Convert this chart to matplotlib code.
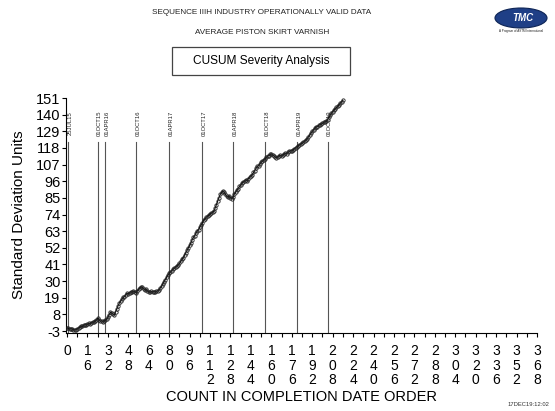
import matplotlib
matplotlib.use("Agg")
import matplotlib.pyplot as plt
from matplotlib.patches import Ellipse, Rectangle
import numpy as np

plt.rcParams['font.family'] = ['Liberation Sans', 'DejaVu Sans']

cusum = [
    -1.0, -1.3, -1.6, -1.4, -1.8, -2.0, -2.3, -2.0, -1.5, -1.0,
    -0.6, 0.2, 0.0, 0.8, 1.2, 0.9, 1.6, 2.1, 1.8, 2.6,
    3.0, 2.7, 3.6, 4.2, 5.5, 4.6, 3.4, 3.9, 3.3, 3.7,
    4.1, 4.8, 6.0, 7.9, 9.6, 8.8, 8.2, 7.6, 9.8, 11.5,
    13.8, 15.6, 16.9, 18.0, 19.2, 19.8, 21.1, 22.0, 21.6, 22.4,
    23.0, 22.6, 23.5, 23.1, 22.4, 23.4, 24.6, 25.5, 26.2, 25.8,
    24.9, 24.1, 24.6, 23.4, 23.0, 22.5, 23.2, 22.8, 23.1, 22.7,
    23.3, 23.6, 24.2, 25.5, 26.6, 28.3, 29.7, 31.0, 32.6, 34.0,
    35.1, 36.0, 36.8, 37.9, 38.5, 39.4, 40.1, 40.8, 41.7, 43.0,
    44.3, 45.6, 47.2, 48.7, 50.5, 52.0, 53.6, 55.2, 57.4, 59.1,
    60.0, 61.8, 63.2, 64.1, 65.8, 67.1, 68.6, 70.2, 71.0, 72.3,
    72.8, 73.5, 74.4, 75.0, 75.6, 76.2, 78.4, 80.6, 82.9, 85.1,
    87.4, 88.6, 89.6, 88.9, 87.3, 86.1, 85.5, 86.4, 85.0, 84.6,
    85.8, 87.5, 88.9, 90.1, 91.2, 92.6, 93.4, 94.8, 95.5, 96.3,
    97.0, 96.4, 97.8, 98.9, 99.6, 100.3, 101.8, 103.1, 104.6, 105.9,
    106.4, 107.5, 108.6, 109.3, 110.2, 110.9, 111.8, 112.6, 113.0, 113.7,
    114.1, 113.4, 112.9, 112.0, 111.6, 112.3, 112.8, 113.2, 112.7, 113.5,
    114.0, 114.6, 114.3, 115.1, 115.8, 116.3, 116.0, 116.8, 117.6, 118.2,
    118.9, 119.5, 120.1, 120.6, 121.0, 121.8, 122.5, 123.4, 124.2, 125.3,
    126.6, 127.8, 129.0, 130.1, 131.0, 131.8, 132.2, 132.9, 133.4, 133.8,
    134.3, 134.9, 135.2, 135.6, 136.8, 138.2, 139.5, 141.0, 142.1, 143.0,
    143.9, 144.8, 145.5, 146.7, 147.6, 148.6, 149.6,
]
counts = list(range(len(cusum)))

date_labels = ["25JUL15", "01OCT15", "01APR16", "01OCT16", "01APR17",
               "01OCT17", "01APR18", "01OCT18", "01APR19", "01OCT19"]
date_counts = [1, 24, 30, 54, 80, 106, 130, 155, 180, 204]
date_line_top = 122

yticks = list(range(-3, 152, 11))
xticks = list(range(0, 369, 16))

W, H = 555, 411
fig = plt.figure(figsize=(W / 100, H / 100), dpi=100)

def fx(px):
    return px / W

def fy(py):
    return 1 - py / H

ax = fig.add_axes([fx(66), fy(333), fx(537) - fx(66), fy(97) - fy(333)])
ax.set_xlim(-0.8, 368)
ax.set_ylim(-4.3, 151.7)

for c, lab in zip(date_counts, date_labels):
    ax.plot([c, c], [-4.3, date_line_top], color='#555555', lw=0.8, zorder=1)
    ax.text(c + 1.6, 142.5, lab, rotation=90, ha='center', va='top',
            fontsize=4.2, color='#222222')

ax.plot(counts, cusum, color='black', lw=0.8, marker='o', markersize=2.4,
        mfc='none', mec='#222222', mew=0.6, zorder=3)

for s in ['top', 'right']:
    ax.spines[s].set_visible(False)
ax.spines['left'].set_linewidth(0.8)
ax.spines['bottom'].set_linewidth(0.8)
ax.spines['left'].set_bounds(-4.3, 151)

ax.set_yticks(yticks)
ax.set_yticklabels([str(v) for v in yticks], fontsize=10.5)
ax.tick_params(axis='y', length=3, width=0.8, pad=1)

ax.set_xticks(xticks)
ax.set_xticklabels(["\n".join(str(v)) for v in xticks], fontsize=10,
                   linespacing=1.05, va='top')
ax.set_xticks(list(range(8, 369, 16)), minor=True)
ax.tick_params(axis='x', which='both', length=3, width=0.8, pad=5)

ax.set_ylabel("Standard Deviation Units", fontsize=11)
ax.yaxis.set_label_coords(-0.085, 0.5)
fig.text(fx(301), fy(397), "COUNT IN COMPLETION DATE ORDER", ha='center',
         va='center', fontsize=10.5)

fig.text(fx(262), fy(13), "SEQUENCE IIIH INDUSTRY OPERATIONALLY VALID DATA",
         ha='center', va='center', fontsize=5.9, color='#222222')
fig.text(fx(262), fy(33), "AVERAGE PISTON SKIRT VARNISH",
         ha='center', va='center', fontsize=5.9, color='#222222')
box = Rectangle((fx(172), fy(75)), fx(350) - fx(172), fy(47) - fy(75),
                transform=fig.transFigure, fill=False, ec='#444444', lw=0.9)
fig.patches.append(box)
fig.text(fx(261), fy(61), "CUSUM Severity Analysis", ha='center', va='center',
         fontsize=8.6)

logo = Ellipse((fx(521), fy(18)), fx(52), fy(0) - fy(20),
               transform=fig.transFigure, fc='#1f3f86', ec='#0d2455', lw=0.8)
fig.patches.append(logo)
fig.text(fx(523), fy(18), "TMC", ha='center', va='center', fontsize=7,
         color='white', fontweight='bold', style='italic')
fig.text(fx(521), fy(31), "A Program of ASTM International", ha='center',
         va='center', fontsize=2.2, color='#222222')

fig.text(fx(549), fy(404), "17DEC19:12:02", ha='right', va='center',
         fontsize=4.2, color='#333333')

fig.savefig("out.png", dpi=100)
